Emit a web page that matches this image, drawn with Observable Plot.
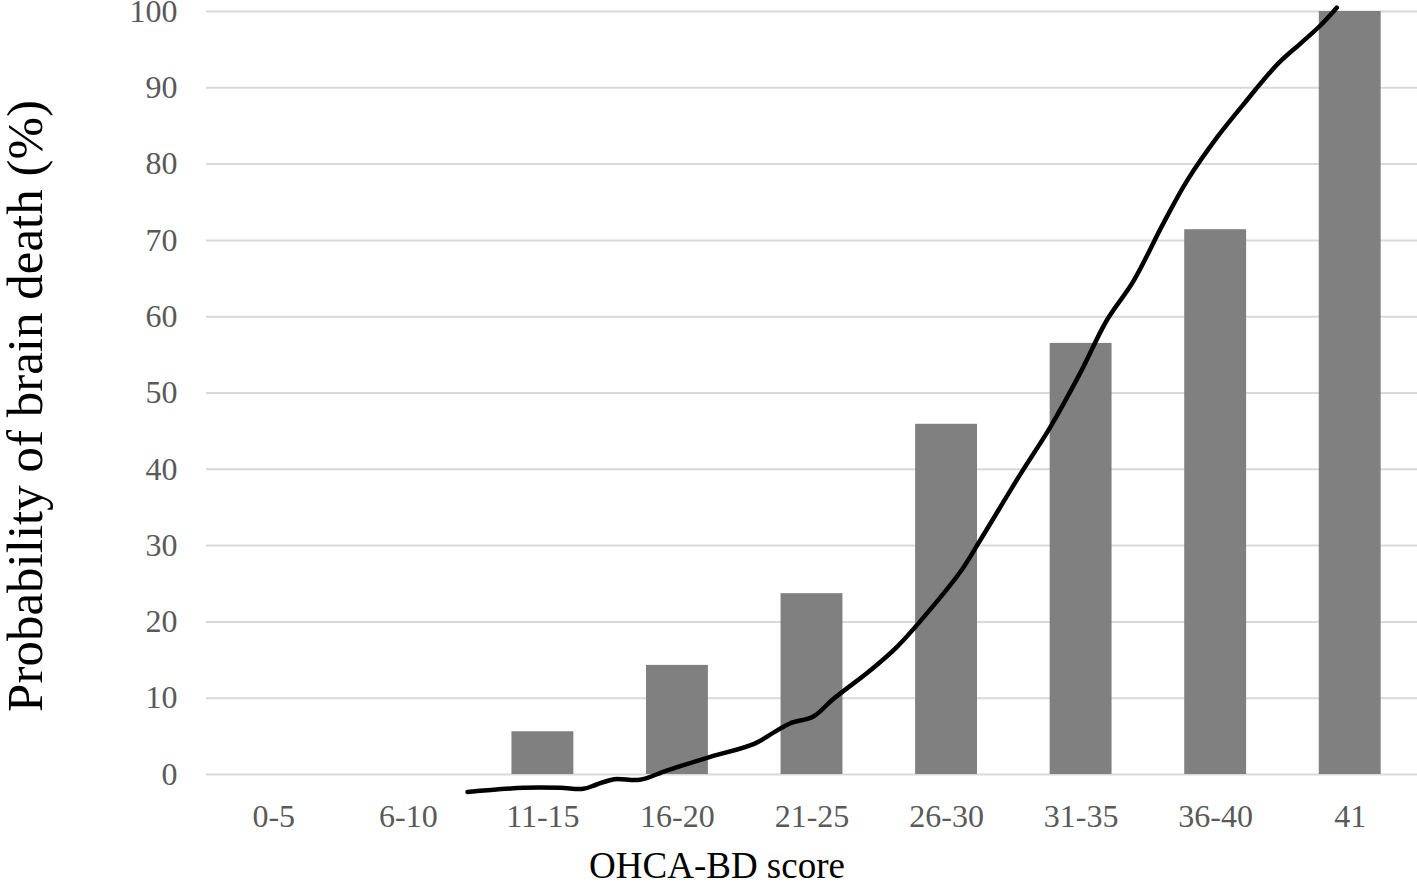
<!DOCTYPE html>
<html>
<head>
<meta charset="utf-8">
<script src="https://cdn.jsdelivr.net/npm/d3@7"></script>
<script src="https://cdn.jsdelivr.net/npm/@observablehq/plot@0.6"></script>
<style>
  html, body { margin: 0; padding: 0; background: #ffffff; }
</style>
</head>
<body>
<div id="chart"></div>
<script>
// Categories (OHCA-BD score bins) and bar values (probability of brain death, %)
const categories = ["0-5", "6-10", "11-15", "16-20", "21-25", "26-30", "31-35", "36-40", "41"];
const probability = [0, 0, 5.6, 14.3, 23.7, 45.9, 56.5, 71.4, 100];

// Smoothed trend line (x in category-index units, y in %)
const curveX = [1.44, 1.86, 2.13, 2.30, 2.40, 2.53, 2.72, 2.92, 3.22, 3.57, 3.72, 3.84, 4.01, 4.16, 4.43, 4.63, 4.81, 5.10, 5.25, 5.55, 5.77, 5.99, 6.19, 6.39, 6.61, 6.79, 7.01, 7.21, 7.46, 7.63, 7.78, 7.90];
const curveY = [-2.3, -1.75, -1.75, -1.88, -1.31, -0.61, -0.70, 0.52, 2.19, 4.02, 5.55, 6.72, 7.6, 9.92, 13.6, 16.7, 20.2, 26.5, 30.7, 39.4, 45.5, 52.5, 59.5, 64.7, 72.2, 77.9, 83.5, 87.9, 93.1, 95.8, 98.2, 100.5];

// Tick values
const yTicks = [0, 10, 20, 30, 40, 50, 60, 70, 80, 90, 100];
const xTicks = categories.map((c, i) => i);

const bars = categories.map((c, i) => ({i, category: c, value: probability[i]}));
const curve = curveX.map((x, k) => ({x, y: curveY[k]}));

const halfBar = 0.23;

const chart = Plot.plot({
  width: 1417,
  height: 887,
  marginLeft: 206,
  marginRight: 0,
  marginTop: 11,
  marginBottom: 113,
  style: {fontFamily: "'Liberation Serif', 'Times New Roman', serif", background: "#ffffff"},
  x: {type: "linear", domain: [-0.5, 8.5]},
  y: {domain: [0, 100]},
  marks: [
    Plot.ruleY(yTicks, {stroke: "#d9d9d9", strokeWidth: 2}),
    Plot.rectY(bars, {x1: d => d.i - halfBar, x2: d => d.i + halfBar, y1: 0, y2: "value", fill: "#808080"}),
    Plot.line(curve, {x: "x", y: "y", curve: "catmull-rom", stroke: "#000000", strokeWidth: 4.5, strokeLinecap: "round"}),
    Plot.axisX({ticks: xTicks, tickFormat: i => categories[i], tickSize: 0, tickPadding: 30, fontSize: 32, color: "#595959", label: null}),
    Plot.axisY({ticks: yTicks, tickSize: 0, tickPadding: 29, fontSize: 32, color: "#595959", label: null}),
    Plot.text(["OHCA-BD score"], {frameAnchor: "bottom", dx: -95, dy: 103, fontSize: 37, fill: "#000000"}),
    Plot.text(["Probability of brain death (%)"], {frameAnchor: "left", textAnchor: "middle", rotate: -90, dx: -181, dy: 13, fontSize: 51, fill: "#000000"})
  ]
});

document.getElementById("chart").appendChild(chart);
</script>
</body>
</html>
